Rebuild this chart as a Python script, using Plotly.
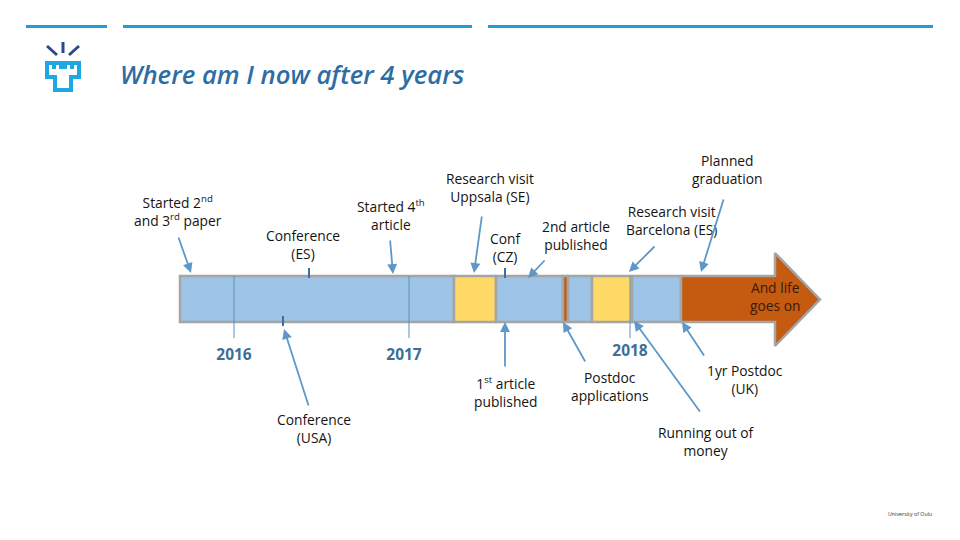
import plotly.graph_objects as go

# timeline blocks, positions are read along the pixel axis of the slide
seg_start = [180, 454, 496, 563, 568, 592, 632]
seg_end = [454, 496, 563, 568, 592, 632, 681]
seg_kind = ["phd", "visit", "phd", "job", "phd", "visit", "phd"]
kind_colors = {"phd": "#9dc3e6", "visit": "#ffd966", "job": "#c55a11"}

# last block is the big arrow
arrow_x = [681, 775, 775, 820, 775, 775, 681, 681]
arrow_y = [276, 276, 253, 299.5, 346, 322, 322, 276]

years = ["2016", "2017", "2018"]
year_x = [234, 409, 630]
year_label_x = [234, 404, 630]
year_label_y = [356, 356, 352]

conf_tick_x = [309, 283, 505]
conf_tick_top = [268, 316, 268]
conf_tick_bottom = [278, 326, 278]

labels = [
    "Started 2<sup>nd</sup><br>and 3<sup>rd</sup> paper",
    "Conference<br>(ES)",
    "Started 4<sup>th</sup><br>article",
    "Research visit<br>Uppsala (SE)",
    "Conf<br>(CZ)",
    "2nd article<br>published",
    "Research visit<br>Barcelona (ES)",
    "Planned<br>graduation",
    "And life<br>goes on",
    "Conference<br>(USA)",
    "1<sup>st</sup> article<br>published",
    "Postdoc<br>applications",
    "1yr Postdoc<br>(UK)",
    "Running out of<br>money",
]
label_x = [178, 303, 391, 490, 505, 576, 671, 727, 775, 314, 506, 610, 745, 706]
label_y = [211, 244, 215, 187, 247, 235, 220, 169, 296, 428, 392, 386, 379, 441]

# callout arrows: tail then head
tail_x = [178, 390, 482, 546, 656, 724, 309, 505, 586, 701, 705]
tail_y = [236, 239, 215, 259, 245, 198, 407, 368, 363, 413, 357]
head_x = [191, 393, 474, 528, 629, 701, 284, 505, 563, 634, 682]
head_y = [273, 274, 273, 278, 272, 272, 329, 322, 322, 321, 322]

TEXT_FONT = dict(family="Open Sans", size=13.8, color="#141414")
GREY = "#a5a5a5"
ARROW = "#5f97c8"

fig = go.Figure()

for s, e, k in zip(seg_start, seg_end, seg_kind):
    fig.add_trace(go.Bar(y=[299], x=[e - s], base=[s], orientation="h", width=46,
                         marker=dict(color=kind_colors[k], line=dict(color=GREY, width=2.5)),
                         hoverinfo="skip"))

fig.add_trace(go.Scatter(x=arrow_x, y=arrow_y, mode="lines", fill="toself",
                         fillcolor="#c55a11", line=dict(color=GREY, width=2.5), hoverinfo="skip"))

for x in year_x:
    fig.add_trace(go.Scatter(x=[x, x], y=[276, 338], mode="lines",
                             line=dict(color="#5b8fbf", width=1), hoverinfo="skip"))

for x, t, b in zip(conf_tick_x, conf_tick_top, conf_tick_bottom):
    fig.add_trace(go.Scatter(x=[x, x], y=[t, b], mode="lines",
                             line=dict(color="#3a6ea5", width=2), hoverinfo="skip"))

fig.add_trace(go.Scatter(x=year_label_x, y=year_label_y, mode="text", text=years,
                         textfont=dict(family="Open Sans", size=15.5, color="#3c6e96", weight=700),
                         hoverinfo="skip"))

for x, y, t in zip(label_x, label_y, labels):
    font = TEXT_FONT
    if t.startswith("And life"):
        font = dict(family="Open Sans", size=13.8, color="#3a1a08")
    fig.add_annotation(x=x, y=y, text=t, showarrow=False, font=font, align="center",
                       xanchor="center", yanchor="middle")

for tx, ty, hx, hy in zip(tail_x, tail_y, head_x, head_y):
    fig.add_annotation(x=hx, y=hy, ax=tx, ay=ty, xref="x", yref="y", axref="x", ayref="y",
                       text="", showarrow=True, arrowhead=2, arrowsize=1.1, arrowwidth=1.8,
                       arrowcolor=ARROW)

# header rules
for x0, x1 in [(26, 107), (123, 472), (488, 933)]:
    fig.add_shape(type="line", x0=x0, x1=x1, y0=26.5, y1=26.5, line=dict(color="#1f9fd6", width=3))

# logo
for x0, y0, x1, y1 in [(47, 46, 57, 55), (63, 42, 63, 53), (79, 46, 69, 55)]:
    fig.add_shape(type="line", x0=x0, y0=y0, x1=x1, y1=y1, line=dict(color="#2b4a8b", width=3))
fig.add_shape(type="path",
              path="M45,61 L81,61 L81,79 L73,79 L73,92 L53,92 L53,79 L45,79 Z",
              fillcolor="#1ea7e0", line=dict(width=0))
fig.add_shape(type="path",
              path="M49,65 L52,65 L52,69 L56,69 L56,65 L59,65 L59,69 L67,69 L67,65 L70,65 L70,69 L74,69 L74,65 L77,65 L77,75 L69,75 L69,88 L57,88 L57,75 L49,75 Z",
              fillcolor="white", line=dict(width=0))

fig.add_annotation(x=118, y=74, text="Where am I now after 4 years", showarrow=False,
                   xanchor="left", yanchor="middle",
                   font=dict(family="Open Sans", size=25.7, color="#2e6da4", style="italic", weight=600))
fig.add_annotation(x=910, y=514, text="University of Oulu", showarrow=False,
                   font=dict(family="Open Sans", size=5.3, color="#333333"))

fig.update_xaxes(range=[0, 960], visible=False)
fig.update_yaxes(range=[540, 0], visible=False)
fig.update_layout(width=960, height=540, margin=dict(l=0, r=0, t=0, b=0),
                  plot_bgcolor="white", paper_bgcolor="white", showlegend=False,
                  barmode="overlay")

# page default body margin would push the slide 8px off
fig.write_html("out.html", config={"displayModeBar": False},
               post_script="document.body.style.margin='0';")
